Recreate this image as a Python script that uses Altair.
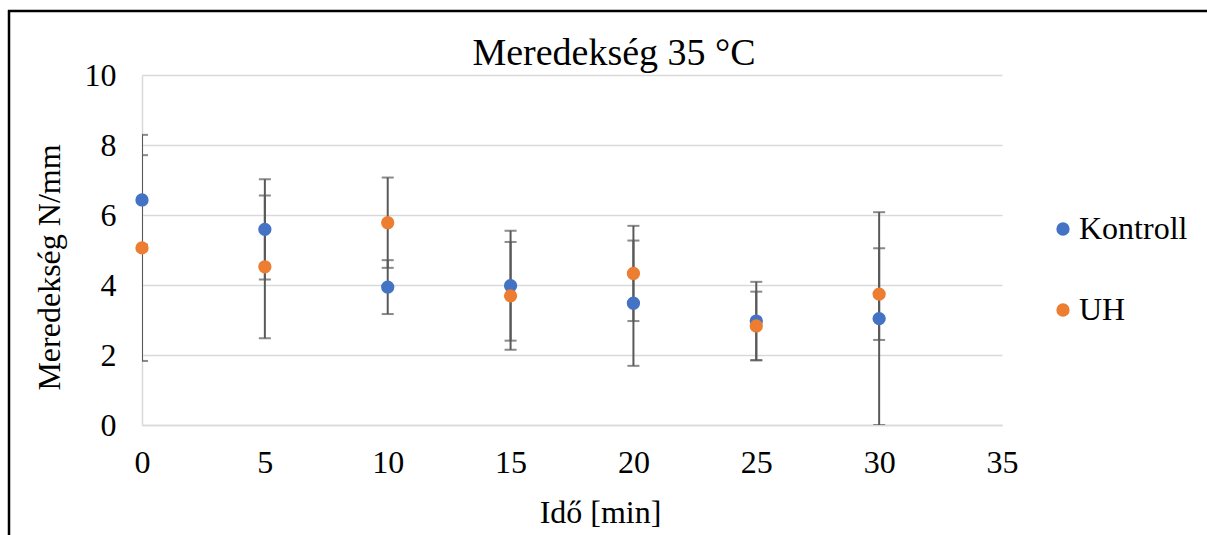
import altair as alt
import pandas as pd

time_min = [0, 5, 10, 15, 20, 25, 30]
kontroll = [6.43, 5.59, 3.94, 3.98, 3.48, 2.97, 3.04]
kontroll_err = [1.28, 1.43, 0.77, 1.57, 1.79, 1.12, 3.04]
uh = [5.06, 4.52, 5.78, 3.69, 4.33, 2.83, 3.74]
uh_err = [3.23, 2.04, 1.29, 1.54, 1.36, 0.98, 1.31]
series_names = ["Kontroll", "UH"]
series_colors = ["#4472C4", "#ED7D31"]
x_ticks = [0, 5, 10, 15, 20, 25, 30, 35]
y_ticks = [0, 2, 4, 6, 8, 10]

rows = []
for name, vals, errs in [("Kontroll", kontroll, kontroll_err), ("UH", uh, uh_err)]:
    for t, v, e in zip(time_min, vals, errs):
        rows.append({"time": t, "value": v, "lo": v - e, "hi": v + e, "series": name})
df = pd.DataFrame(rows)

FONT = "Liberation Serif"
W, H = 860, 350

xscale = alt.Scale(domain=[0, 35], nice=False)
yscale = alt.Scale(domain=[0, 10], nice=False)

xaxis = alt.Axis(values=x_ticks, grid=False, domainColor="#d9d9d9", domainWidth=1.5,
                 ticks=False, tickSize=0, labelFont=FONT, labelFontSize=32, labelColor="black",
                 labelPadding=22, labelFlush=False, labelOverlap=False,
                 title="Idő [min]", titleFont=FONT, titleFontSize=32, titleFontWeight="normal",
                 titleColor="black", titleX=458, titleY=97, titleBaseline="alphabetic")
yaxis = alt.Axis(values=y_ticks, grid=True, gridColor="#d9d9d9", gridWidth=1.5,
                 domainColor="#d9d9d9", domainWidth=1.5, ticks=False, tickSize=0,
                 labelFont=FONT, labelFontSize=32, labelColor="black", labelPadding=26,
                 labelFlush=False, labelOverlap=False,
                 title="Meredekség N/mm", titleFont=FONT, titleFontSize=32,
                 titleFontWeight="normal", titleColor="black", titleX=-83, titleY=192,
                 titleBaseline="alphabetic", titleAlign="center")

base = alt.Chart(df)

err_rule = base.mark_rule(color="#595959", strokeWidth=2, clip=True).encode(
    x=alt.X("time:Q", scale=xscale, axis=xaxis),
    y=alt.Y("lo:Q", scale=yscale, axis=yaxis),
    y2="hi:Q",
)
cap_lo = base.mark_tick(orient="horizontal", size=12, thickness=2, color="#595959", clip=True).encode(
    x=alt.X("time:Q", scale=xscale), y=alt.Y("lo:Q", scale=yscale))
cap_hi = base.mark_tick(orient="horizontal", size=12, thickness=2, color="#595959", clip=True).encode(
    x=alt.X("time:Q", scale=xscale), y=alt.Y("hi:Q", scale=yscale))

points = base.mark_circle(size=177, opacity=1).encode(
    x=alt.X("time:Q", scale=xscale),
    y=alt.Y("value:Q", scale=yscale),
    color=alt.Color("series:N", scale=alt.Scale(domain=series_names, range=series_colors),
                    legend=alt.Legend(title=None, orient="none", legendX=905, legendY=138,
                                      padding=0, labelFont=FONT, labelFontSize=32,
                                      labelColor="black", symbolType="circle", symbolSize=177,
                                      symbolStrokeWidth=0, labelOffset=0, rowPadding=49,
                                      symbolOpacity=1)),
)

border_top = alt.Chart(pd.DataFrame({"a": [0]})).mark_rule(color="black", strokeWidth=2.5, clip=False).encode(
    x=alt.value(-134), x2=alt.value(1080), y=alt.value(-64))
border_left = alt.Chart(pd.DataFrame({"a": [0]})).mark_rule(color="black", strokeWidth=2.5, clip=False).encode(
    x=alt.value(-133), y=alt.value(-65), y2=alt.value(480))

chart = alt.layer(err_rule, cap_lo, cap_hi, points, border_top, border_left).properties(
    width=W, height=H,
    title=alt.TitleParams("Meredekség 35 °C", font=FONT, fontSize=38, fontWeight="normal",
                          color="black", anchor="middle", frame="group", dx=42, offset=-94,
                          baseline="alphabetic"),
    autosize=alt.AutoSizeParams(type="none"),
    padding={"left": 142, "top": 75, "right": 205, "bottom": 110},
    background="white",
).configure_view(stroke=None)

chart.save("out.html", embed_options={"renderer": "svg", "actions": False})
